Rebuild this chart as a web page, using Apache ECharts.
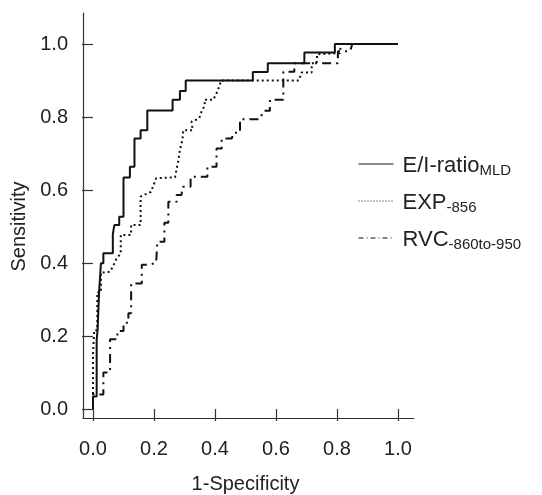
<!DOCTYPE html>
<html><head><meta charset="utf-8">
<script src="https://cdn.jsdelivr.net/npm/echarts@6/dist/echarts.min.js"></script>
<style>html,body{margin:0;padding:0;background:#fff}#c{width:542px;height:495px}</style>
</head><body><div id="c"></div>
<script>
// ---- data ----
const seriesNames = ['E/I-ratioMLD', 'EXP-856', 'RVC-860to-950'];
const tickValues = [0, 0.2, 0.4, 0.6, 0.8, 1.0];

// E/I-ratio MLD (1-specificity, sensitivity)
const eiFpr = [0, 0, 0.012, 0.012, 0.015, 0.015, 0.02, 0.02, 0.026, 0.026, 0.034, 0.034, 0.065, 0.065, 0.07, 0.07, 0.086, 0.086, 0.1, 0.1, 0.121, 0.121, 0.136, 0.136, 0.156, 0.156, 0.178, 0.178, 0.261, 0.261, 0.285, 0.285, 0.304, 0.304, 0.524, 0.524, 0.573, 0.573, 0.693, 0.693, 0.793, 0.793, 1.0];
const eiTpr = [0, 0.034, 0.034, 0.189, 0.189, 0.216, 0.216, 0.321, 0.321, 0.399, 0.399, 0.427, 0.427, 0.479, 0.479, 0.504, 0.504, 0.527, 0.527, 0.634, 0.634, 0.664, 0.664, 0.741, 0.741, 0.764, 0.764, 0.818, 0.818, 0.847, 0.847, 0.871, 0.871, 0.9, 0.9, 0.923, 0.923, 0.947, 0.947, 0.977, 0.977, 1.0, 1.0];

// EXP-856
const expFpr = [0, 0, 0.004, 0.004, 0.014, 0.014, 0.026, 0.026, 0.04, 0.056, 0.065, 0.07, 0.077, 0.091, 0.091, 0.125, 0.125, 0.156, 0.156, 0.19, 0.207, 0.269, 0.28, 0.285, 0.293, 0.296, 0.327, 0.323, 0.348, 0.356, 0.367, 0.365, 0.394, 0.405, 0.416, 0.419, 0.675, 0.679, 0.684, 0.717, 0.717, 0.733, 0.735, 0.81, 0.812, 1.0];
const expTpr = [0, 0.15, 0.15, 0.216, 0.216, 0.32, 0.32, 0.374, 0.374, 0.376, 0.39, 0.399, 0.412, 0.426, 0.477, 0.477, 0.504, 0.504, 0.582, 0.595, 0.632, 0.635, 0.682, 0.71, 0.737, 0.764, 0.764, 0.787, 0.796, 0.815, 0.833, 0.847, 0.847, 0.865, 0.888, 0.9, 0.9, 0.91, 0.922, 0.922, 0.947, 0.947, 0.972, 0.975, 1.0, 1.0];

// RVC-860to-950
const rvcFpr = [0, 0, 0.034, 0.034, 0.056, 0.056, 0.08, 0.08, 0.1, 0.1, 0.116, 0.116, 0.125, 0.125, 0.16, 0.16, 0.181, 0.207, 0.211, 0.211, 0.234, 0.234, 0.247, 0.247, 0.274, 0.274, 0.29, 0.294, 0.32, 0.32, 0.375, 0.375, 0.405, 0.405, 0.422, 0.422, 0.455, 0.46, 0.482, 0.482, 0.548, 0.558, 0.58, 0.58, 0.624, 0.624, 0.66, 0.66, 0.803, 0.803, 0.843, 0.85, 1.0];
const rvcTpr = [0, 0.04, 0.04, 0.1, 0.1, 0.191, 0.191, 0.214, 0.214, 0.236, 0.236, 0.262, 0.262, 0.344, 0.344, 0.395, 0.395, 0.4, 0.4, 0.458, 0.458, 0.51, 0.51, 0.568, 0.568, 0.586, 0.586, 0.609, 0.609, 0.636, 0.636, 0.664, 0.664, 0.714, 0.714, 0.741, 0.741, 0.757, 0.757, 0.794, 0.794, 0.817, 0.817, 0.847, 0.847, 0.924, 0.924, 0.947, 0.947, 0.98, 0.98, 1.0, 1.0];

const legendRich = {
  'E/I-ratioMLD': '{m|E/I-ratio}{s|MLD}',
  'EXP-856': '{m|EXP}{s|-856}',
  'RVC-860to-950': '{m|RVC}{s|-860to-950}'
};

function zip(a, b) { return a.map((v, i) => [v, b[i]]); }

const FONT = 'Liberation Sans';
const chart = echarts.init(document.getElementById('c'), null, {renderer: 'canvas'});
const axisColor = '#333';
const hideSym = {opacity: 0, borderWidth: 0};

chart.setOption({
  animation: false,
  backgroundColor: '#fff',
  grid: [
    {left: 83, right: 128, top: 13, bottom: 77, containLabel: false, outerBoundsMode: 'none'},
    {left: 93, right: 144, top: 44, bottom: 86, containLabel: false, outerBoundsMode: 'none'}
  ],
  xAxis: [
    {gridIndex: 0, type: 'value', min: 0, max: 1,
     axisLine: {show: true, onZero: false, lineStyle: {color: axisColor, width: 1.2}},
     axisTick: {show: false}, axisLabel: {show: false}, splitLine: {show: false}},
    {gridIndex: 1, type: 'value', min: 0, max: 1, interval: 0.2, offset: 9,
     axisLine: {show: false},
     axisTick: {show: true, length: 12, lineStyle: {color: axisColor, width: 1.2}},
     axisLabel: {margin: 21, color: '#222', fontSize: 20, fontFamily: FONT,
                 formatter: v => v.toFixed(1)},
     splitLine: {show: false},
     name: '1-Specificity', nameLocation: 'middle', nameGap: 56,
     nameTextStyle: {color: '#222', fontSize: 20, fontFamily: FONT}}
  ],
  yAxis: [
    {gridIndex: 0, type: 'value', min: 0, max: 1,
     axisLine: {show: true, onZero: false, lineStyle: {color: axisColor, width: 1.2}},
     axisTick: {show: false}, axisLabel: {show: false}, splitLine: {show: false}},
    {gridIndex: 1, type: 'value', min: 0, max: 1, interval: 0.2, offset: 10,
     axisLine: {show: false},
     axisTick: {show: true, length: 11, lineStyle: {color: axisColor, width: 1.2}},
     axisLabel: {margin: 15, color: '#222', fontSize: 20, fontFamily: FONT,
                 formatter: v => v.toFixed(1)},
     splitLine: {show: false},
     name: 'Sensitivity', nameLocation: 'middle', nameGap: 54, nameRotate: 90,
     nameTextStyle: {color: '#222', fontSize: 20, fontFamily: FONT}}
  ],
  legend: {
    orient: 'vertical', left: 358, top: 155, padding: 0, itemWidth: 35, itemHeight: 14, itemGap: 9,
    data: [
      {name: seriesNames[0], lineStyle: {width: 1, type: 'solid'}, itemStyle: hideSym},
      {name: seriesNames[1], lineStyle: {width: 1, type: [1, 2]}, itemStyle: hideSym},
      {name: seriesNames[2], lineStyle: {width: 1, type: [5, 3, 1, 3]}, itemStyle: hideSym}
    ],
    formatter: n => legendRich[n],
    textStyle: {
      color: '#222', fontFamily: FONT, padding: [10, 0, 0, 0],
      rich: {
        m: {fontSize: 22, lineHeight: 28, verticalAlign: 'top', fontFamily: FONT, color: '#222', padding: [0, 0, 0, 4]},
        s: {fontSize: 15, lineHeight: 15, verticalAlign: 'bottom', fontFamily: FONT, color: '#222', padding: [0, 0, 5, 0]}
      }
    }
  },
  series: [
    {name: seriesNames[0], type: 'line', xAxisIndex: 1, yAxisIndex: 1, symbol: 'none', showSymbol: false,
     data: zip(eiFpr, eiTpr), lineStyle: {color: '#111', width: 2, type: 'solid'}, itemStyle: {color: '#111'}, z: 5},
    {name: seriesNames[1], type: 'line', xAxisIndex: 1, yAxisIndex: 1, symbol: 'none', showSymbol: false,
     data: zip(expFpr, expTpr), lineStyle: {color: '#111', width: 2, type: [2, 3]}, itemStyle: {color: '#111'}, z: 4},
    {name: seriesNames[2], type: 'line', xAxisIndex: 1, yAxisIndex: 1, symbol: 'none', showSymbol: false,
     data: zip(rvcFpr, rvcTpr), lineStyle: {color: '#111', width: 2, type: [9, 5, 2, 5]}, itemStyle: {color: '#111'}, z: 3}
  ]
});
</script></body></html>
